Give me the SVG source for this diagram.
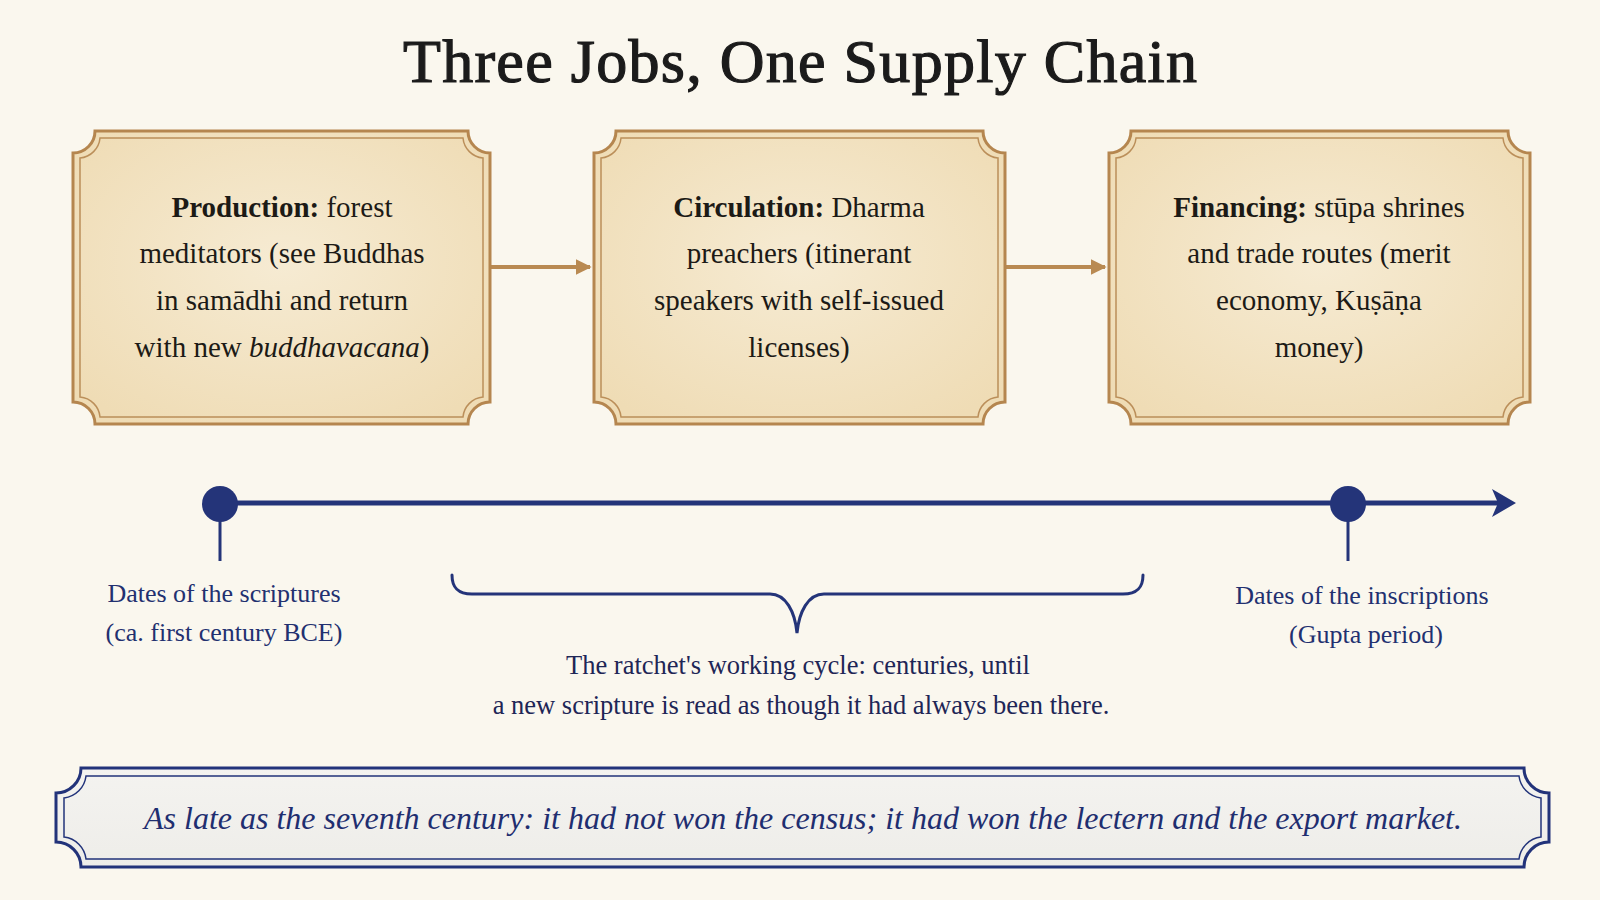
<svg xmlns="http://www.w3.org/2000/svg" width="1600" height="900" viewBox="0 0 1600 900">
  <defs>
    <radialGradient id="paper" cx="50%" cy="45%" r="65%">
      <stop offset="0%" stop-color="#f6ebd3"/>
      <stop offset="100%" stop-color="#efdcb5"/>
    </radialGradient>
    <linearGradient id="banner" x1="0" y1="0" x2="0" y2="1">
      <stop offset="0%" stop-color="#f4f3f0"/>
      <stop offset="100%" stop-color="#eeede9"/>
    </linearGradient>
    <marker id="goldArrow" viewBox="0 0 10 10" refX="9" refY="5" markerWidth="4" markerHeight="4" orient="auto" markerUnits="strokeWidth">
      <path d="M0,0 L10,5 L0,10 Z" fill="#b98a52"/>
    </marker>
    <style>
      .bg { fill: #faf7ee; }
      .title { font-family: "Liberation Serif", "DejaVu Serif", serif; font-size: 62px; fill: #1b1b1b; stroke: #1b1b1b; stroke-width: 1.2; text-anchor: middle; }
      .box-outer { fill: url(#paper); stroke: #b5864f; stroke-width: 3; }
      .box-inner { fill: none; stroke: #bb8f5a; stroke-width: 1.5; }
      .box-text { font-family: "Liberation Serif", "DejaVu Serif", serif; font-size: 29px; fill: #1c1a16; text-anchor: middle; }
      .b { font-weight: bold; }
      .i { font-style: italic; }
      .flow { stroke: #b98a52; stroke-width: 4; fill: none; }
      .navy-line { stroke: #243479; fill: none; }
      .navy-fill { fill: #243479; }
      .label { font-family: "Liberation Serif", "DejaVu Serif", serif; font-size: 26px; fill: #223070; text-anchor: middle; }
      .brace-text { font-family: "Liberation Serif", "DejaVu Serif", serif; font-size: 26.5px; fill: #1e2656; text-anchor: middle; }
      .banner-outer { fill: url(#banner); stroke: #22337a; stroke-width: 3; }
      .banner-inner { fill: none; stroke: #22337a; stroke-width: 1.5; }
      .banner-text { font-family: "Liberation Serif", "DejaVu Serif", serif; font-size: 32px; font-style: italic; fill: #1f2e70; text-anchor: middle; }
    </style>
  </defs>

  <rect class="bg" x="0" y="0" width="1600" height="900"/>

  <text class="title" x="800" y="82" textLength="794">Three Jobs, One Supply Chain</text>

  <g id="connectors">
    <line class="flow" x1="490" y1="267" x2="590" y2="267" marker-end="url(#goldArrow)"/>
    <line class="flow" x1="1005" y1="267" x2="1105" y2="267" marker-end="url(#goldArrow)"/>
  </g>

  <g id="node-production">
    <path class="box-outer" d="M95,131 H468 A22,22 0 0 0 490,153 V402 A22,22 0 0 0 468,424 H95 A22,22 0 0 0 73,402 V153 A22,22 0 0 0 95,131 Z"/>
    <path class="box-inner" d="M100,138 H463 A22,22 0 0 0 483,158 V397 A22,22 0 0 0 463,417 H100 A22,22 0 0 0 80,397 V158 A22,22 0 0 0 100,138 Z"/>
    <text class="box-text" x="282" y="217"><tspan class="b">Production:</tspan> forest</text>
    <text class="box-text" x="282" y="263">meditators (see Buddhas</text>
    <text class="box-text" x="282" y="310">in samādhi and return</text>
    <text class="box-text" x="282" y="357">with new <tspan class="i">buddhavacana</tspan>)</text>
  </g>

  <g id="node-circulation">
    <path class="box-outer" d="M616,131 H983 A22,22 0 0 0 1005,153 V402 A22,22 0 0 0 983,424 H616 A22,22 0 0 0 594,402 V153 A22,22 0 0 0 616,131 Z"/>
    <path class="box-inner" d="M621,138 H978 A22,22 0 0 0 998,158 V397 A22,22 0 0 0 978,417 H621 A22,22 0 0 0 601,397 V158 A22,22 0 0 0 621,138 Z"/>
    <text class="box-text" x="799" y="217"><tspan class="b">Circulation:</tspan> Dharma</text>
    <text class="box-text" x="799" y="263">preachers (itinerant</text>
    <text class="box-text" x="799" y="310">speakers with self-issued</text>
    <text class="box-text" x="799" y="357">licenses)</text>
  </g>

  <g id="node-financing">
    <path class="box-outer" d="M1131,131 H1508 A22,22 0 0 0 1530,153 V402 A22,22 0 0 0 1508,424 H1131 A22,22 0 0 0 1109,402 V153 A22,22 0 0 0 1131,131 Z"/>
    <path class="box-inner" d="M1136,138 H1503 A22,22 0 0 0 1523,158 V397 A22,22 0 0 0 1503,417 H1136 A22,22 0 0 0 1116,397 V158 A22,22 0 0 0 1136,138 Z"/>
    <text class="box-text" x="1319" y="217"><tspan class="b">Financing:</tspan> stūpa shrines</text>
    <text class="box-text" x="1319" y="263">and trade routes (merit</text>
    <text class="box-text" x="1319" y="310">economy, Kuṣāṇa</text>
    <text class="box-text" x="1319" y="357">money)</text>
  </g>

  <g id="timeline">
    <line class="navy-line" x1="220" y1="503" x2="1500" y2="503" stroke-width="5"/>
    <path class="navy-fill" d="M1492,489 L1516,503 L1492,517 L1498,503 Z"/>
    <line class="navy-line" x1="220" y1="505" x2="220" y2="561" stroke-width="3"/>
    <circle class="navy-fill" cx="220" cy="504" r="18"/>
    <line class="navy-line" x1="1348" y1="505" x2="1348" y2="561" stroke-width="3"/>
    <circle class="navy-fill" cx="1348" cy="504" r="18"/>
  </g>

  <g id="label-scriptures">
    <text class="label" x="224" y="602">Dates of the scriptures</text>
    <text class="label" x="224" y="641">(ca. first century BCE)</text>
  </g>

  <g id="label-inscriptions">
    <text class="label" x="1362" y="604">Dates of the inscriptions</text>
    <text class="label" x="1366" y="643">(Gupta period)</text>
  </g>

  <g id="brace">
    <path class="navy-line" stroke-width="3" stroke-linecap="round" d="M452,575 C452,588 458,594 472,594 H770 C786,594 795,612 797,633 C799,612 808,594 824,594 H1123 C1137,594 1143,588 1143,575"/>
    <text class="brace-text" x="798" y="674">The ratchet's working cycle: centuries, until</text>
    <text class="brace-text" x="801" y="714">a new scripture is read as though it had always been there.</text>
  </g>

  <g id="banner">
    <path class="banner-outer" d="M81,768 H1524 A25,25 0 0 0 1549,793 V842 A25,25 0 0 0 1524,867 H81 A25,25 0 0 0 56,842 V793 A25,25 0 0 0 81,768 Z"/>
    <path class="banner-inner" d="M86,776 H1519 A25,25 0 0 0 1541,798 V837 A25,25 0 0 0 1519,859 H86 A25,25 0 0 0 64,837 V798 A25,25 0 0 0 86,776 Z"/>
    <text class="banner-text" x="803" y="829">As late as the seventh century: it had not won the census; it had won the lectern and the export market.</text>
  </g>
</svg>
